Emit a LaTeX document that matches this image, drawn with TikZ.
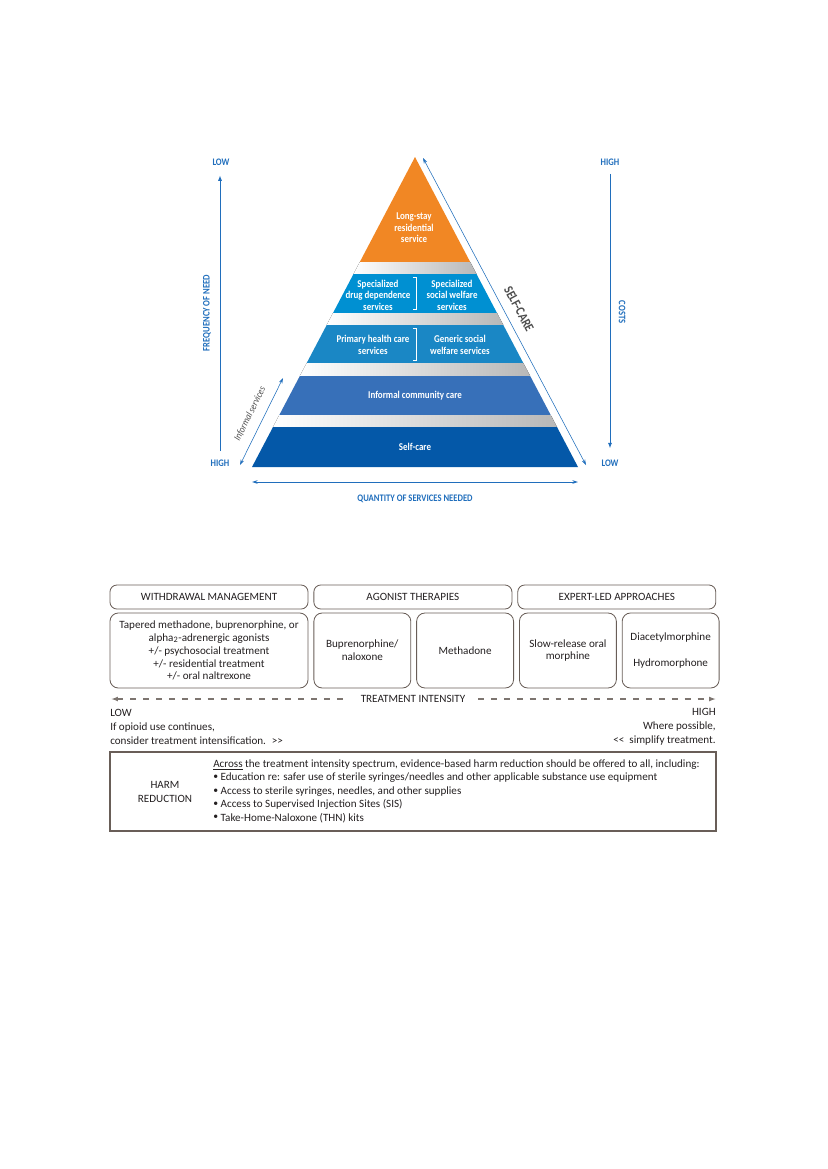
\documentclass[tikz,border=0pt]{standalone}
\usepackage{fontspec}
\setmainfont{Carlito}
\newfontfamily\pyrfont{Carlito}[FakeStretch=0.86]
\usetikzlibrary{positioning, arrows.meta}

\definecolor{orangetop}{RGB}{241,135,36}
\definecolor{tierb}{RGB}{0,144,210}
\definecolor{tierc}{RGB}{26,135,197}
\definecolor{tierd}{RGB}{55,112,185}
\definecolor{tiere}{RGB}{4,88,168}
\definecolor{axisblue}{RGB}{32,110,188}
\definecolor{boxline}{RGB}{105,94,88}
\definecolor{inktext}{RGB}{35,31,32}
\definecolor{dashgray}{RGB}{125,117,112}

\newcommand{\harmbullet}{\raisebox{0.2ex}{\scriptsize\textbullet}}

\begin{document}
\begin{tikzpicture}[x=0.72pt, y=-0.72pt,
            tiertext/.style={font=\pyrfont\bfseries\fontsize{7.5}{8.2}\selectfont, text=white, align=center, inner sep=0pt},
            axislabel/.style={font=\pyrfont\bfseries\fontsize{7.2}{8}\selectfont, text=axisblue, inner sep=1pt},
            axis/.style={axisblue, line width=0.7pt, -{Latex[length=4pt,width=3pt]}},
            thinarrow/.style={axisblue, line width=0.4pt, {Stealth[length=4pt,width=2.6pt]}-{Stealth[length=4pt,width=2.6pt]}},
            gap/.style={left color=white, right color=black!28},
            divider/.style={white, line width=0.5pt},
            header/.style={draw=boxline, line width=0.6pt, rounded corners=5pt, minimum width=142.6pt, minimum height=17.3pt, inner sep=0pt, font=\fontsize{8}{9.3}\selectfont, text=inktext},
            drugbox/.style={draw=boxline, line width=0.6pt, rounded corners=6pt, minimum width=69.8pt, minimum height=54pt, inner sep=1pt, align=center, font=\fontsize{8}{9.3}\selectfont, text=inktext},
            plain/.style={inner sep=0pt, font=\fontsize{8}{10}\selectfont, text=inktext},
            intensity/.style={dashgray, line width=0.9pt, dash pattern=on 4.3pt off 5pt}]

        \useasboundingbox (0,0) rectangle (827,1169);

        % pyramid
        \fill[orangetop] (415,157) -- (470.2,262) -- (359.8,262) -- cycle;
        \fill[gap] (359.8,262) -- (470.2,262) -- (476.5,274) -- (353.5,274) -- cycle;
        \fill[tierb] (353.5,274) -- (476.5,274) -- (497,313) -- (333,313) -- cycle;
        \fill[gap] (333,313) -- (497,313) -- (503.3,325) -- (326.7,325) -- cycle;
        \fill[tierc] (326.7,325) -- (503.3,325) -- (523.3,363) -- (306.7,363) -- cycle;
        \fill[gap] (306.7,363) -- (523.3,363) -- (530.2,376) -- (299.8,376) -- cycle;
        \fill[tierd] (299.8,376) -- (530.2,376) -- (550.7,415) -- (279.3,415) -- cycle;
        \fill[gap] (279.3,415) -- (550.7,415) -- (557,427) -- (273,427) -- cycle;
        \fill[tiere] (273,427) -- (557,427) -- (578,467) -- (252,467) -- cycle;

        \draw[divider] (413,277) -- (416,277) -- (416,309) -- (413,309);
        \draw[divider] (413,328) -- (416,328) -- (416,360) -- (413,360);

        \node[tiertext] (longstay) at (414,228) {Long-stay\\residential\\service};
        \node[tiertext] (specdrug) at (378,295) {Specialized\\drug dependence\\services};
        \node[tiertext] (specsoc) at (452,295) {Specialized\\social welfare\\services};
        \node[tiertext] (primary) at (373,345) {Primary health care\\services};
        \node[tiertext] (generic) at (460,345) {Generic social\\welfare services};
        \node[tiertext] (informal) at (415,396) {Informal community care};
        \node[tiertext] (selfcare) at (415,447) {Self-care};

        % axes
        \node[axislabel] (lowL) at (221,162) {LOW};
        \node[axislabel] (highL) at (220,463) {HIGH};
        \node[axislabel, rotate=90] (freq) at (207,313) {FREQUENCY OF NEED};
        \draw[axis, shorten <=5pt, shorten >=6pt] (highL.north) -- (highL.north |- lowL.south);

        \node[axislabel] (highR) at (610,162) {HIGH};
        \node[axislabel] (lowR) at (610,463) {LOW};
        \node[axislabel, rotate=-90] (costs) at (622,312) {COSTS};
        \draw[axis, shorten <=5pt, shorten >=7pt] (highR.south) -- (highR.south |- lowR.north);

        \coordinate (qL) at (252,482);
        \coordinate (qR) at (578,482);
        \draw[thinarrow, line width=0.6pt] (qL) -- (qR);
        \node[axislabel] (qty) at (415,499) {QUANTITY OF SERVICES NEEDED};

        \coordinate (scTop) at (423,158);
        \coordinate (scBot) at (586,465);
        \draw[thinarrow] (scBot) -- (scTop);
        \node[font=\pyrfont\bfseries\fontsize{9.5}{10}\selectfont, text=black!70, rotate=-62] (sclabel) at (519,309) {SELF-CARE};

        \coordinate (infTop) at (283,378);
        \coordinate (infBot) at (240,465);
        \draw[thinarrow] (infBot) -- (infTop);
        \node[font=\pyrfont\itshape\fontsize{7.2}{8}\selectfont, text=black!70, rotate=63.6] (inflabel) at (250,414) {Informal services};

        % treatment table
        \node[header] (wm) at (209,597) {WITHDRAWAL MANAGEMENT};
        \node[header, right=3.6pt of wm] (ag) {AGONIST THERAPIES};
        \node[header, right=3.6pt of ag] (ex) {EXPERT-LED APPROACHES};

        \node[drugbox, minimum width=142.6pt] (taper) at (209,650.5) {Tapered methadone, buprenorphine, or\\alpha\textsubscript{2}-adrenergic agonists\\+/- psychosocial treatment\\+/- residential treatment\\+/- oral naltrexone};
        \node[drugbox, right=3.6pt of taper] (bup) {Buprenorphine/\\naloxone};
        \node[drugbox, right=3.6pt of bup] (meth) {Methadone};
        \node[drugbox, right=3.6pt of meth] (srom) {Slow-release oral\\morphine};
        \node[drugbox, right=3.6pt of srom] (diam) {Diacetylmorphine\\[9.4pt]Hydromorphone};

        \coordinate (tiL) at (111,699);
        \coordinate (tiR) at (716,699);
        \node[plain, inner xsep=9pt] (ti) at (413,699) {TREATMENT INTENSITY};
        \draw[intensity, {Latex[length=5pt,width=3.5pt]}-] (tiL) -- (ti.west);
        \draw[intensity, -{Latex[length=5pt,width=3.5pt]}] (ti.east) -- (tiR);

        \node[plain, align=left, anchor=west] (lowside) at (110,727) {LOW\\If opioid use continues,\\consider treatment intensification.~ >{}>};
        \node[plain, align=right, anchor=east] (highside) at (716,727) {HIGH\\Where possible,\\<{}<~ simplify treatment.};

        % harm reduction
        \node[draw=boxline, line width=0.9pt, minimum width=436.3pt, minimum height=56.9pt, inner sep=0pt] (harmbox) at (413,791.5) {};
        \node[plain, align=center] (harm) at (165,792) {HARM\\REDUCTION};
        \node[plain, align=left, anchor=west, font=\fontsize{8}{9.7}\selectfont] (harmlist) at (213,791) {\underline{Across} the treatment intensity spectrum, evidence-based harm reduction should be offered to all, including:\\
            \harmbullet\ Education re: safer use of sterile syringes/needles and other applicable substance use equipment\\
            \harmbullet\ Access to sterile syringes, needles, and other supplies\\
            \harmbullet\ Access to Supervised Injection Sites (SIS)\\
            \harmbullet\ Take-Home-Naloxone (THN) kits};
    \end{tikzpicture}
\end{document}
